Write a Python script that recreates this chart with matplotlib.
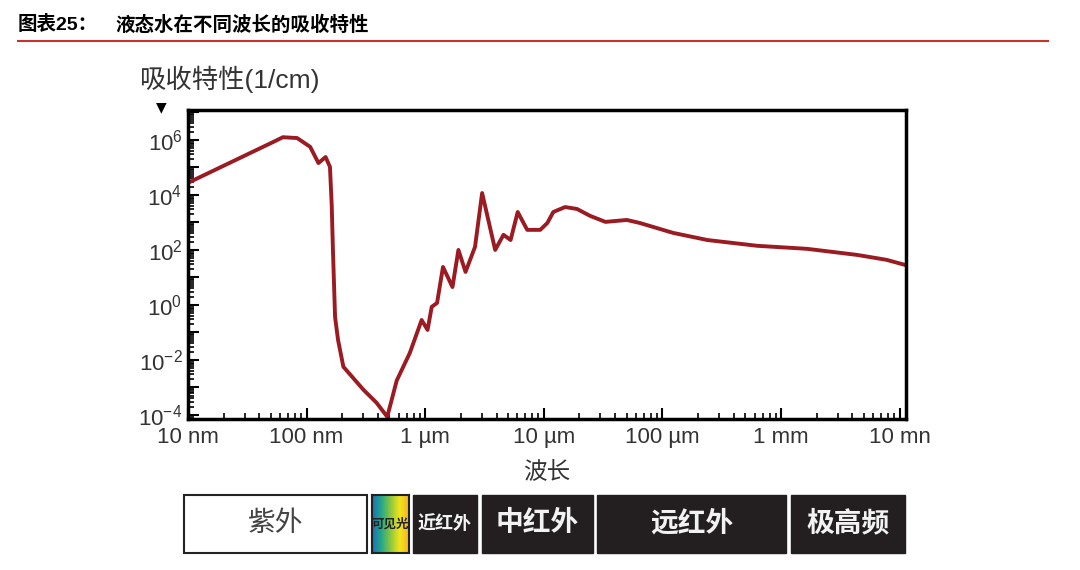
import numpy as np
import matplotlib
matplotlib.use('Agg')
from matplotlib import pyplot as plt
from matplotlib.patches import Rectangle
from matplotlib.lines import Line2D
from matplotlib.colors import LinearSegmentedColormap
from matplotlib.ticker import LogLocator, FuncFormatter, FixedLocator, NullFormatter

plt.rcParams['font.family'] = ['Liberation Sans', 'Noto Sans CJK SC', 'DejaVu Sans']
plt.rcParams['mathtext.fontset'] = 'custom'
plt.rcParams['mathtext.rm'] = 'Liberation Sans'
plt.rcParams['mathtext.it'] = 'Liberation Sans:italic'
plt.rcParams['mathtext.bf'] = 'Liberation Sans:bold'

# curve: log10(wavelength / nm) and log10(absorption / cm^-1)
wl_log = [1.00, 1.72, 1.80, 1.92, 2.03, 2.10, 2.16, 2.197, 2.212, 2.222, 2.240, 2.265,
          2.31, 2.48, 2.59, 2.68, 2.76, 2.87, 2.97, 3.02, 3.055, 3.10, 3.15, 3.23,
          3.28, 3.34, 3.42, 3.48, 3.59, 3.66, 3.72, 3.78, 3.86, 3.97, 4.03, 4.08,
          4.18, 4.28, 4.39, 4.52, 4.70, 4.81, 5.09, 5.38, 5.80, 6.22, 6.64, 6.89, 7.05]
abs_log = [4.44, 5.93, 6.10, 6.07, 5.75, 5.16, 5.38, 5.02, 3.60, 2.00, -0.44, -1.27,
           -2.25, -3.09, -3.56, -4.07, -2.75, -1.75, -0.55, -0.91, -0.07, 0.07, 1.38, 0.65,
           2.00, 1.20, 2.11, 4.07, 2.00, 2.55, 2.36, 3.38, 2.73, 2.73, 2.98, 3.38,
           3.56, 3.49, 3.24, 3.02, 3.09, 2.98, 2.62, 2.36, 2.15, 2.04, 1.82, 1.64, 1.45]
wavelength_nm = 10 ** np.array(wl_log)
absorption = 10 ** np.array(abs_log)

x_ticks = [1e1, 1e2, 1e3, 1e4, 1e5, 1e6, 1e7]
x_tick_labels = ['10 nm', '100 nm', '1 µm', '10 µm', '100 µm', '1 mm', '10 mn']

band_names = ['紫外', '可见光', '近红外', '中红外', '远红外', '极高频']

W, H = 1080, 570


def fig_box(x0, y0, x1, y1):
    # pixel box (top-left origin) -> figure fraction rect
    return [x0 / W, 1 - y1 / H, (x1 - x0) / W, (y1 - y0) / H]


fig = plt.figure(figsize=(10.8, 5.7), dpi=100)
ax = fig.add_axes(fig_box(188, 110, 906, 419))

ax.plot(wavelength_nm, absorption, color='#9b1b22', lw=2.8, solid_joinstyle='round')
ax.set_xscale('log')
ax.set_yscale('log')
ax.set_xlim(10, 10 ** 7.054)
ax.set_ylim(10 ** -4.15, 10 ** 7.09)

ax.xaxis.set_major_locator(FixedLocator(x_ticks))
ax.set_xticklabels(x_tick_labels)
ax.xaxis.set_minor_locator(LogLocator(base=10, subs=np.arange(2, 10), numticks=20))
ax.xaxis.set_minor_formatter(NullFormatter())

ax.yaxis.set_major_locator(LogLocator(base=10, numticks=20))
ax.yaxis.set_major_formatter(FuncFormatter(
    lambda v, p: f'$10^{{{int(round(np.log10(v)))}}}$' if int(round(np.log10(v))) % 2 == 0 else ''))
ax.yaxis.set_minor_locator(LogLocator(base=10, subs=np.arange(2, 10), numticks=20))
ax.yaxis.set_minor_formatter(NullFormatter())

ax.tick_params(which='major', direction='in', length=8, width=1.5, labelsize=16,
               labelcolor='#333333', pad=6)
ax.tick_params(axis='y', which='major', pad=4)
ax.tick_params(which='minor', direction='in', length=4, width=1.2)
for s in ax.spines.values():
    s.set_linewidth(2.5)

ax.set_xlabel('波长', fontsize=17, color='#333333', labelpad=10)
fig.text(140 / W, 1 - 79 / H, '吸收特性(1/cm)', fontsize=19, color='#333333', va='center')
fig.text(161 / W, 1 - 107 / H, '▼', fontsize=10, color='black', ha='center', va='center',
         family='DejaVu Sans')

# title and red rule
fig.text(18 / W, 1 - 25 / H, '图表25：', fontsize=14, weight='bold', va='center')
fig.text(115 / W, 1 - 25 / H, '液态水在不同波长的吸收特性', fontsize=14, weight='bold', va='center')
fig.add_artist(Line2D([18 / W, 1048 / W], [1 - 41 / H, 1 - 41 / H], color='#c8312d', lw=1.5))

# spectral band strip
band_px = [(184, 367), (372, 409), (413, 477), (482, 593), (597, 786), (791, 905)]
top, bot = 495, 553
for i, (name, (x0, x1)) in enumerate(zip(band_names, band_px)):
    r = fig_box(x0, top, x1, bot)
    cx = (x0 + x1) / 2 / W
    cy = 1 - (top + bot) / 2 / H
    if i == 0:
        fig.add_artist(Rectangle((r[0], r[1]), r[2], r[3], transform=fig.transFigure,
                                 facecolor='white', edgecolor='#222222', lw=1.5))
        fig.text(cx, cy, name, fontsize=20, color='#444444', ha='center', va='center')
    elif i == 1:
        gax = fig.add_axes(r)
        cmap = LinearSegmentedColormap.from_list(
            'vis', ['#1c6fb8', '#23a98a', '#8cc63f', '#f2e51c', '#f5b324'])
        gax.imshow(np.linspace(0, 1, 64)[None, :], aspect='auto', cmap=cmap)
        gax.set_xticks([])
        gax.set_yticks([])
        for s in gax.spines.values():
            s.set_linewidth(1.5)
            s.set_color('#222222')
        fig.text(cx, cy, name, fontsize=9, color='#222222', ha='center', va='center',
                 weight='bold')
    else:
        fig.add_artist(Rectangle((r[0], r[1]), r[2], r[3], transform=fig.transFigure,
                                 facecolor='#231f20', edgecolor='#231f20', lw=1))
        fs = 13 if i == 2 else 20
        fig.text(cx, cy, name, fontsize=fs, color='#f2f2f2', ha='center', va='center',
                 weight='bold')

plt.savefig('out.png', dpi=100)
